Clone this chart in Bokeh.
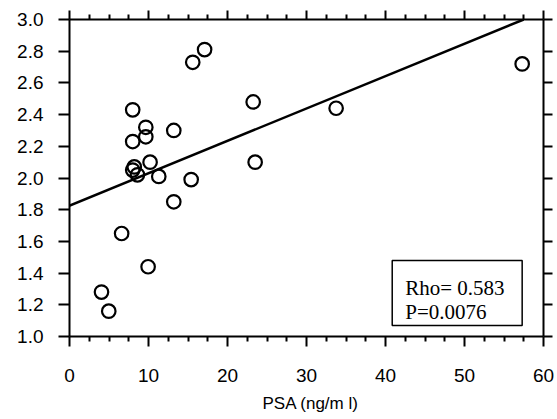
from bokeh.plotting import figure
from bokeh.models import Range1d, LinearAxis, FixedTicker, Slope, Label, BoxAnnotation, Title
from bokeh.embed import file_html
from bokeh.resources import INLINE

# ---- data ----
psa = [4.05, 4.97, 6.6, 8.0, 8.0, 8.0, 8.2, 8.6, 9.66, 9.66, 9.95, 10.2,
       11.3, 13.2, 13.2, 15.4, 15.6, 17.1, 23.25, 23.5, 33.75, 57.3]
ratio = [1.28, 1.16, 1.65, 2.43, 2.23, 2.05, 2.07, 2.02, 2.32, 2.26, 1.44, 2.10,
         2.01, 2.30, 1.85, 1.99, 2.73, 2.81, 2.48, 2.10, 2.44, 2.72]

fit_intercept = 1.826
fit_slope = 0.02042

x_ticks = [0, 10, 20, 30, 40, 50, 60]
x_minor = [2.5, 5, 7.5, 12.5, 15, 17.5, 22.5, 25, 27.5, 32.5, 35, 37.5,
           42.5, 45, 47.5, 52.5, 55, 57.5]
x_tick_labels = ["0", "10", "20", "30", "40", "50", "60"]
y_ticks = [1.0, 1.2, 1.4, 1.6, 1.8, 2.0, 2.2, 2.4, 2.6, 2.8, 3.0]
y_tick_labels = ["1.0", "1.2", "1.4", "1.6", "1.8", "2.0", "2.2", "2.4", "2.6", "2.8", "3.0"]

x_title = "PSA (ng/m l)"
stats_lines = ["Rho= 0.583", "P=0.0076"]

# ---- figure ----
p = figure(width=557, height=419, output_backend="svg", toolbar_location=None,
           x_range=Range1d(0, 60), y_range=Range1d(1.0, 3.0),
           x_axis_location=None, y_axis_location=None,
           min_border_left=69, min_border_right=14, min_border_top=19, min_border_bottom=83)
p.outline_line_color = None
p.xgrid.visible = False
p.ygrid.visible = False
p.background_fill_color = "white"

tick_font = "Liberation Sans"

def style_axis(ax, show_labels, tick_out, minor_out):
    ax.axis_line_width = 2
    ax.axis_line_color = "black"
    ax.major_tick_line_width = 2
    ax.minor_tick_line_width = 2
    ax.major_tick_in = 0
    ax.major_tick_out = tick_out
    ax.minor_tick_in = 0
    ax.minor_tick_out = minor_out
    ax.major_label_text_font = tick_font
    ax.major_label_text_color = "black"
    if show_labels:
        ax.major_label_text_font_size = "19px"
    else:
        ax.major_label_text_font_size = "0px"
        ax.major_label_standoff = 0

xt = FixedTicker(ticks=x_ticks, minor_ticks=x_minor)
yt = FixedTicker(ticks=y_ticks, minor_ticks=[])

bottom = LinearAxis(ticker=xt)
style_axis(bottom, True, 10, 5)
bottom.major_label_overrides = {t: s for t, s in zip(x_ticks, x_tick_labels)}
bottom.major_label_standoff = 22
p.add_layout(bottom, "below")

p.add_layout(Title(text=x_title, align="left", offset=193, text_font=tick_font,
                   text_font_size="17px", text_font_style="normal",
                   text_color="black", standoff=14), "below")

top = LinearAxis(ticker=xt)
style_axis(top, False, 9, 5)
top.major_label_overrides = {t: "" for t in x_ticks}
p.add_layout(top, "above")

left = LinearAxis(ticker=yt)
style_axis(left, True, 11, 0)
left.major_label_overrides = {t: s for t, s in zip(y_ticks, y_tick_labels)}
left.major_label_standoff = 15
p.add_layout(left, "left")

right = LinearAxis(ticker=yt)
style_axis(right, False, 9, 0)
right.major_label_overrides = {t: "" for t in y_ticks}
p.add_layout(right, "right")

# regression line
p.add_layout(Slope(gradient=fit_slope, y_intercept=fit_intercept,
                   line_color="black", line_width=2.5))

# points
p.scatter(psa, ratio, marker="circle", size=13.5, fill_color=None,
          line_color="black", line_width=2.2)

# stats box
p.add_layout(BoxAnnotation(left=40.85, right=57.3, bottom=1.069, top=1.479,
                           fill_color="white", fill_alpha=1.0,
                           line_color="black", line_alpha=1.0, line_width=1.5))
for txt, yy in zip(stats_lines, [1.309, 1.153]):
    p.add_layout(Label(x=42.5, y=yy, text=txt, text_font="Liberation Serif",
                       text_font_size="21px", text_color="black",
                       text_baseline="alphabetic", text_align="left"))

open("out.html", "w").write(file_html(p, INLINE))
